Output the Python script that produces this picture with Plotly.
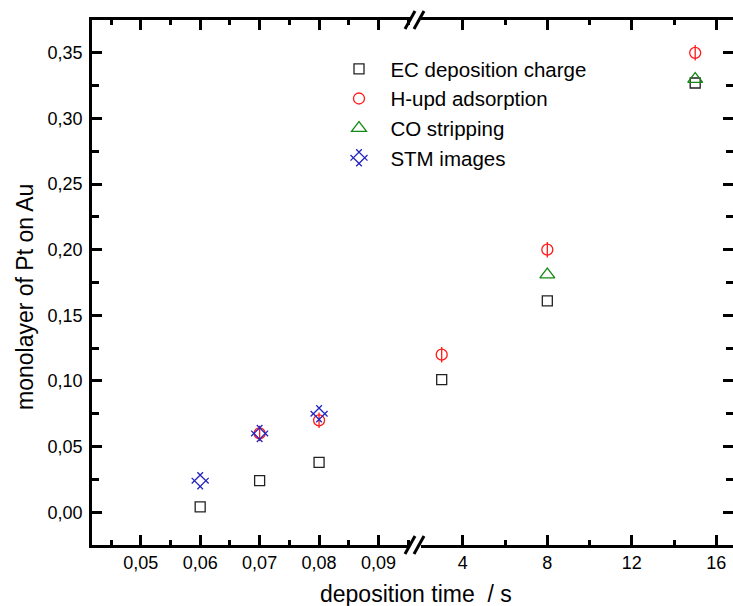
import plotly.graph_objects as go

# ---- data ----
# left (short times, s) segment of the broken x axis
ec_x_short = [0.06, 0.07, 0.08]
ec_y_short = [0.004, 0.024, 0.038]
ec_x_long = [3, 8, 15]
ec_y_long = [0.101, 0.161, 0.327]

hupd_x_short = [0.07, 0.08]
hupd_y_short = [0.060, 0.070]
hupd_x_long = [3, 8, 15]
hupd_y_long = [0.120, 0.200, 0.350]

co_x_long = [8, 15]
co_y_long = [0.181, 0.330]

stm_x_short = [0.06, 0.07, 0.08]
stm_y_short = [0.024, 0.060, 0.075]

series_names = ["EC deposition charge", "H-upd adsorption", "CO stripping", "STM images"]
x_title = "deposition time  / s"
y_title = "monolayer of Pt on Au"

# ---- styles ----
BLACK = "#222222"
RED = "#ff1a1a"
GREEN = "#138a13"
BLUE = "#2424c0"
FONT = "Liberation Sans, Arial, sans-serif"
NB = "\u00a0\u00a0"

W, H = 733, 606
ML, MR, MT, MB = 92, 0, 20, 61
PW = W - ML - MR
PH = H - MT - MB

def px_to_paper_x(px):
    return (px - ML) / PW

def px_to_paper_y(py):
    return (H - MB - py) / PH

left_end = px_to_paper_x(410)
right_start = px_to_paper_x(421)

fig = go.Figure()

def add(x, y, name, symbol, color, size, xaxis, yaxis, showlegend, lw=1.3, angle=0):
    fig.add_trace(go.Scatter(
        x=x, y=y, mode="markers", name=NB + name, xaxis=xaxis, yaxis=yaxis,
        showlegend=showlegend,
        marker=dict(symbol=symbol, size=size, color=color, angle=angle,
                    line=dict(color=color, width=lw)),
    ))

# EC squares
add(ec_x_short, ec_y_short, series_names[0], "square-open", BLACK, 10, "x", "y", True)
add(ec_x_long, ec_y_long, series_names[0], "square-open", BLACK, 10, "x2", "y2", False)
# H-upd circles with vertical bar
add(hupd_x_short, hupd_y_short, series_names[1], "circle-open", RED, 11, "x", "y", True)
add(hupd_x_long, hupd_y_long, series_names[1], "circle-open", RED, 11, "x2", "y2", False)
add(hupd_x_short, hupd_y_short, series_names[1], "line-ns-open", RED, 11, "x", "y", False)
add(hupd_x_long, hupd_y_long, series_names[1], "line-ns-open", RED, 11, "x2", "y2", False)
# CO triangles
add(co_x_long, co_y_long, series_names[2], "triangle-up-open", GREEN, 13, "x2", "y2", True)
# STM
add(stm_x_short, stm_y_short, series_names[3], "hash-open", BLUE, 16, "x", "y", True, angle=45)

tickfont = dict(family=FONT, size=18, color="black")
axis_common = dict(
    showline=True, linecolor="black", linewidth=2.5,
    ticks="inside", ticklen=10, tickwidth=2.5, tickcolor="black",
    showgrid=False, zeroline=False, tickfont=tickfont,
)
yrange = [-0.025, 0.375]
yminor = dict(ticks="inside", ticklen=7, tickwidth=2.5, tickcolor="black",
              tick0=0.025, dtick=0.05)

fig.update_layout(
    width=W, height=H,
    margin=dict(l=ML, r=MR, t=MT, b=MB, pad=0),
    paper_bgcolor="white", plot_bgcolor="white",
    separators=", ",
    font=dict(family=FONT, color="black"),
    xaxis=dict(domain=[0, left_end], range=[0.0418, 0.0953], tick0=0.05, dtick=0.01,
               tickformat=".2f", anchor="y", mirror="ticks",
               minor=dict(ticks="inside", ticklen=5, tickwidth=2.5, tickcolor="black",
                          tick0=0.045, dtick=0.01),
               **axis_common),
    xaxis2=dict(domain=[right_start, 1], range=[2.02, 16.79], tick0=0, dtick=4,
                anchor="y2", mirror="ticks",
                minor=dict(ticks="inside", ticklen=5, tickwidth=2.5, tickcolor="black",
                           tick0=2, dtick=4),
                **axis_common),
    yaxis=dict(domain=[0, 1], range=yrange, tick0=0, dtick=0.05,
               tickformat=".2f", anchor="x", minor=yminor, ticklabelstandoff=3,
               **axis_common),
    yaxis2=dict(domain=[0, 1], range=yrange, tick0=0, dtick=0.05, matches="y",
                anchor="x2", side="right", showticklabels=False, minor=yminor,
                **axis_common),
    legend=dict(x=px_to_paper_x(339), y=px_to_paper_y(49), xanchor="left", yanchor="top",
                bgcolor="rgba(0,0,0,0)", borderwidth=0, tracegroupgap=0,
                font=dict(family=FONT, size=20.5, color="black"), itemwidth=30),
    annotations=[
        dict(text=x_title, xref="paper", yref="paper", x=px_to_paper_x(416),
             y=px_to_paper_y(594), xanchor="center", yanchor="middle",
             showarrow=False, font=dict(family=FONT, size=23, color="black")),
        dict(text=y_title, xref="paper", yref="paper", x=px_to_paper_x(25),
             y=px_to_paper_y(297), xanchor="center", yanchor="middle", textangle=-90,
             showarrow=False, font=dict(family=FONT, size=23, color="black")),
    ],
)

# axis-break marks "//" on bottom and top axes
brk = px_to_paper_x(415)
shapes = []
for yanc in (0, 1):
    for dx in (-5, 4):
        shapes.append(dict(type="line", xref="paper", yref="paper",
                           xsizemode="pixel", ysizemode="pixel",
                           xanchor=brk, yanchor=yanc,
                           x0=dx - 5, x1=dx + 5, y0=-9, y1=9,
                           line=dict(color="black", width=3)))
fig.update_layout(shapes=shapes)

fig.write_html("out.html")
